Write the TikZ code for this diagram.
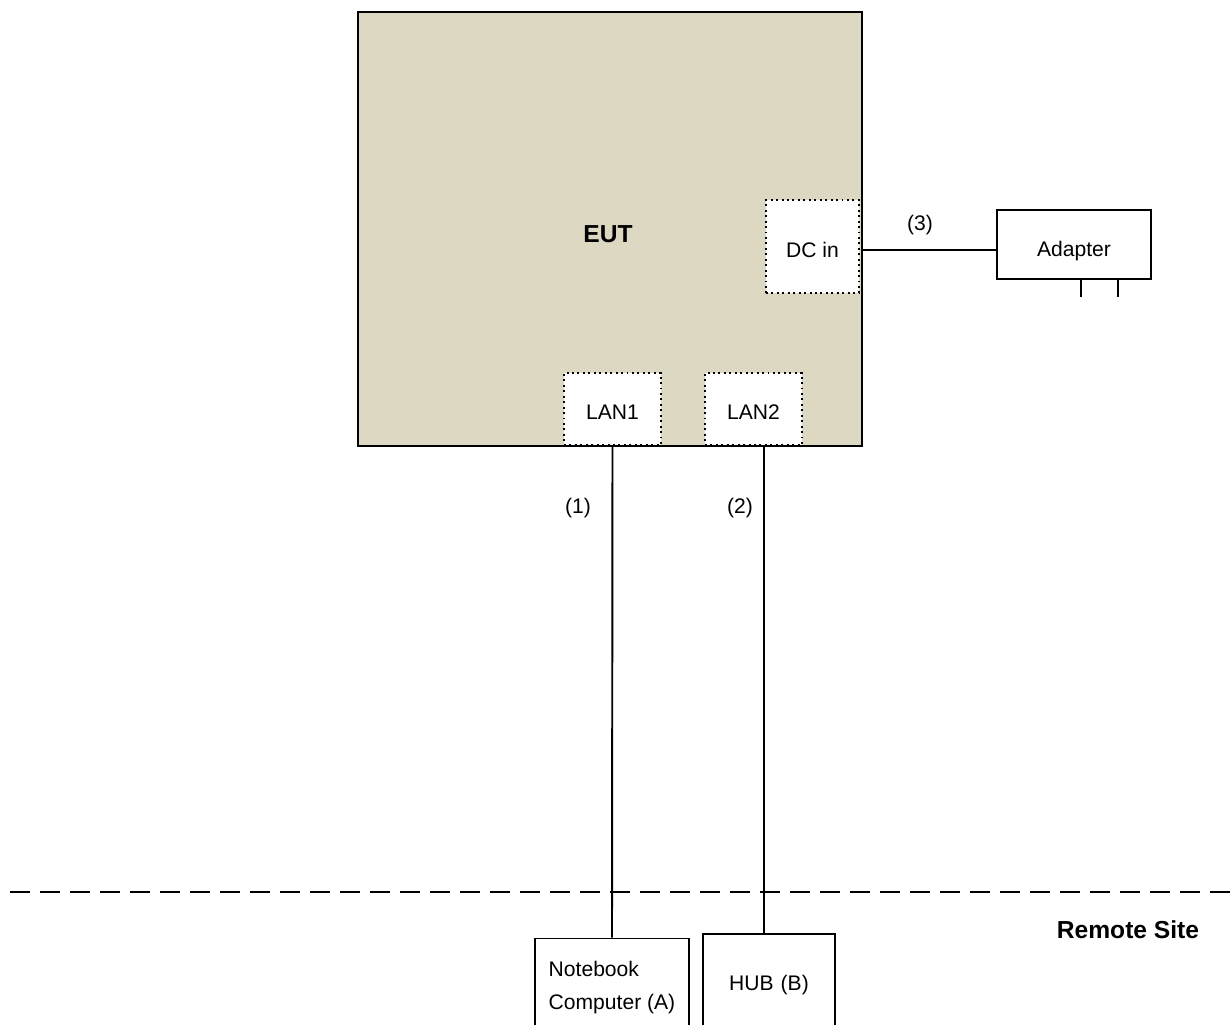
\documentclass[tikz,border=0pt]{standalone}
\usepackage{fontspec}
\setmainfont{Liberation Sans}
\definecolor{euttan}{RGB}{221,216,194}
\newcommand{\plainSize}[0]{\fontsize{12}{18.7}\selectfont}

\begin{document}
\begin{tikzpicture}[x=0.02cm, y=-0.02cm]
  \tikzset{unit/.style={draw, line width=1pt, fill=white, font=\plainSize},
           port/.style={draw, dotted, line width=1.1pt, fill=white, font=\plainSize},
           cable/.style={line width=1.1pt},
           tag/.style={font=\plainSize}}
  \path[use as bounding box, clip] (0,0) rectangle (1232,1025);
  % equipment under test
  \node[draw, line width=1.3pt, fill=euttan, minimum width=10.08cm, minimum height=8.68cm] (eut) at (610,229) {};
  \node[font=\fontsize{14}{16}\selectfont\bfseries] (eutlabel) at (608,234) {EUT};
  \node[port, minimum width=1.86cm, minimum height=1.86cm,
        label={[tag, yshift=-2.2pt]center:DC in}] (dcin) at (812.5,246.5) {};
  \node[port, minimum width=1.94cm, minimum height=1.44cm,
        label={[tag, yshift=-2pt]center:LAN1}] (lanone) at (612.5,409) {};
  \node[port, minimum width=1.94cm, minimum height=1.44cm,
        label={[tag, yshift=-2pt]center:LAN2}] (lantwo) at (753.5,409) {};
  % power
  \node[unit, minimum width=3.08cm, minimum height=1.38cm,
        label={[tag, yshift=-3.6pt]center:Adapter}] (adapter) at (1074,244.5) {};
  \draw[cable] (eut.east |- 0,250) coordinate (dcplug) -- (dcplug -| adapter.west);
  \node[tag] (three) at (920,225) {(3)};
  \foreach \px in {1081,1118}
    \draw[cable] (\px,279) -- (\px,297);
  % remote site
  \node[unit, align=left, minimum width=3.08cm, minimum height=1.96cm] (notebook) at (612,987.5) {Notebook\\Computer (A)};
  \node[unit, minimum width=2.64cm, minimum height=2.04cm] (hub) at (769,985) {HUB\,\,(B)};
  \draw[cable] (lanone.south) -- (notebook.north);
  \coordinate (lantwoplug) at (764,446);
  \draw[cable] (lantwoplug) -- (lantwoplug |- hub.north);
  \node[tag] (one) at (578,508) {(1)};
  \node[tag] (two) at (740,508) {(2)};
  \coordinate (siteleft) at (10,892);
  \coordinate (siteright) at (1232,892);
  \draw[line width=1.1pt, dash pattern=on 0.4cm off 0.2cm] (siteleft) -- (siteright);
  \node[font=\fontsize{14}{16}\selectfont\bfseries] (remote) at (1128,930) {Remote Site};
\end{tikzpicture}
\end{document}
